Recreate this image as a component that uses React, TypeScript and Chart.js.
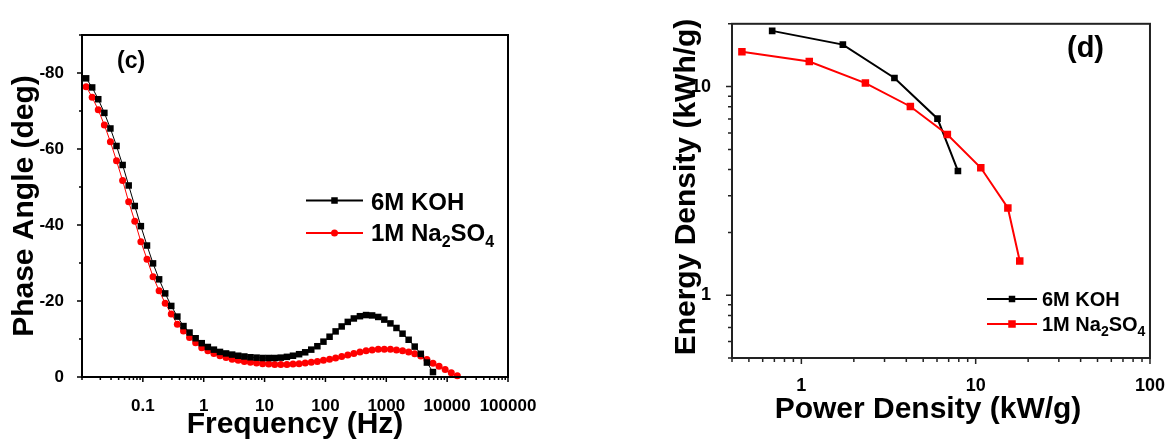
import React, { useEffect, useRef } from 'react';
import { Chart, registerables } from 'chart.js';

Chart.register(...registerables);

// ---------------- Data ----------------
// Panel (c): Bode phase plot
const frequencyHz = [
  0.0117, 0.0147, 0.0185, 0.0233, 0.0293, 0.0369, 0.0465, 0.0585, 0.0737, 0.0928,
  0.117, 0.147, 0.185, 0.233, 0.293, 0.369, 0.465, 0.585, 0.737, 0.928,
  1.17, 1.47, 1.85, 2.33, 2.93, 3.69, 4.65, 5.85, 7.37, 9.28,
  11.7, 14.7, 18.5, 23.3, 29.3, 36.9, 46.5, 58.5, 73.7, 92.8,
  117, 147, 185, 233, 293, 369, 465, 585, 737, 928,
  1170, 1470, 1850, 2330, 2930, 3690, 4650, 5850, 7370, 9280,
  11700, 14700,
];
const phaseKOH = [
  -78.6, -76.2, -73.1, -69.5, -65.4, -60.8, -55.8, -50.4, -45.0, -39.7,
  -34.6, -29.9, -25.7, -22.0, -18.7, -15.9, -13.4, -11.7, -10.2, -8.9,
  -7.9, -7.2, -6.6, -6.2, -5.9, -5.6, -5.4, -5.2, -5.1, -5.0,
  -5.0, -5.0, -5.1, -5.3, -5.6, -6.0, -6.5, -7.2, -8.1, -9.3,
  -10.6, -12.0, -13.3, -14.5, -15.4, -16.0, -16.3, -16.2, -15.8, -15.1,
  -14.1, -12.9, -11.4, -9.8, -8.0, -6.1, -3.8, -1.3,
];
const phaseNa2SO4 = [
  -76.4, -73.6, -70.3, -66.3, -61.9, -56.9, -51.7, -46.1, -41.0, -35.6,
  -31.0, -26.4, -22.7, -19.4, -16.6, -13.9, -12.1, -10.4, -9.0, -7.7,
  -6.9, -6.2, -5.6, -5.1, -4.7, -4.4, -4.1, -3.9, -3.7, -3.5,
  -3.4, -3.3, -3.3, -3.3, -3.4, -3.5, -3.7, -3.9, -4.1, -4.4,
  -4.7, -5.0, -5.4, -5.8, -6.2, -6.6, -6.9, -7.1, -7.3, -7.3,
  -7.3, -7.1, -6.9, -6.6, -6.1, -5.5, -4.6, -3.6, -2.8, -2.0,
  -1.1, -0.3,
];
const frequencyLabels = [0.1, 1, 10, 100, 1000, 10000, 100000];
const phaseLabels = [-80, -60, -40, -20, 0];

// Panel (d): Ragone plot
const powerKOH = [0.68, 1.73, 3.42, 6.04, 7.91];
const energyKOH = [18.5, 15.9, 11.0, 7.02, 3.94];
const powerNa2SO4 = [0.456, 1.11, 2.33, 4.22, 6.88, 10.7, 15.3, 17.9];
const energyNa2SO4 = [14.7, 13.2, 10.4, 8.03, 5.89, 4.08, 2.62, 1.46];
const powerLabels = [1, 10, 100];
const energyLabels = [1, 10];

const seriesNames = ['6M KOH', '1M Na2SO4'];

// ---------------- helpers ----------------
const FAMILY = '"Liberation Sans", Arial, Helvetica, sans-serif';
const W = 587;
const H = 439;

function sameValue(a: number, b: number) {
  return Math.abs(a - b) <= 1e-9 * Math.max(1, Math.abs(b));
}
function inList(v: number, list: number[]) {
  return list.some((l) => sameValue(v, l));
}
function logPositions(min: number, max: number) {
  const out: number[] = [];
  for (let e = Math.floor(Math.log10(min)); e <= Math.ceil(Math.log10(max)); e++) {
    for (let s = 1; s < 10; s++) {
      const v = parseFloat((s * Math.pow(10, e)).toPrecision(6));
      if (v >= min * (1 - 1e-9) && v <= max * (1 + 1e-9)) out.push(v);
    }
  }
  return out;
}
function linearPositions(min: number, max: number, step: number) {
  const out: number[] = [];
  for (let v = min; v <= max + 1e-9; v += step) out.push(Math.round(v * 1e6) / 1e6);
  return out;
}
function splitFormula(s: string) {
  const parts: { t: string; sub: boolean }[] = [];
  for (let i = 0; i < s.length; i++) {
    const ch = s[i];
    const prev = i > 0 ? s[i - 1] : ' ';
    const last = parts[parts.length - 1];
    const sub =
      /[0-9]/.test(ch) && (/[A-Za-z]/.test(prev) || (!!last && last.sub && /[0-9]/.test(prev)));
    if (last && last.sub === sub) last.t += ch;
    else parts.push({ t: ch, sub });
  }
  return parts;
}
function drawRich(
  ctx: CanvasRenderingContext2D,
  text: string,
  x: number,
  baseline: number,
  size: number,
  subSize: number,
  drop: number
) {
  let cx = x;
  ctx.textAlign = 'left';
  ctx.textBaseline = 'alphabetic';
  for (const p of splitFormula(text)) {
    ctx.font = `bold ${p.sub ? subSize : size}px ${FAMILY}`;
    ctx.fillText(p.t, cx, baseline + (p.sub ? drop : 0));
    cx += ctx.measureText(p.t).width;
  }
}

type Decor = {
  axisColor: string;
  frameWidth: number;
  tickWidth: number;
  majorLen: number;
  minorLen: number;
  xMajor: (v: number) => boolean;
  yMajor: (v: number) => boolean;
  xTitle: { text: string; cx: number; baseline: number; size: number };
  yTitle: { text: string; cy: number; baseline: number; size: number };
  panel: { text: string; x: number; baseline: number; size: number };
  legend: {
    x1: number;
    x2: number;
    textX: number;
    rowsCenter: number[];
    rowsBaseline: number[];
    size: number;
    subSize: number;
    drop: number;
    lineWidth: number;
    markers: { style: 'rect' | 'circle'; size: number }[];
    colors: string[];
  };
};

function makeDecor(cfg: Decor) {
  return {
    id: 'decor',
    afterDraw(chart: any) {
      const { ctx, chartArea: a, scales } = chart;
      const xs = scales.x;
      const ys = scales.y;
      ctx.save();
      // tick marks (outward)
      ctx.strokeStyle = cfg.axisColor;
      ctx.lineWidth = cfg.tickWidth;
      ctx.beginPath();
      for (const t of xs.ticks) {
        const px = xs.getPixelForValue(t.value);
        const len = cfg.xMajor(t.value) ? cfg.majorLen : cfg.minorLen;
        ctx.moveTo(px, a.bottom);
        ctx.lineTo(px, a.bottom + len);
      }
      for (const t of ys.ticks) {
        const py = ys.getPixelForValue(t.value);
        const len = cfg.yMajor(t.value) ? cfg.majorLen : cfg.minorLen;
        ctx.moveTo(a.left - len, py);
        ctx.lineTo(a.left, py);
      }
      ctx.stroke();
      // frame
      ctx.lineWidth = cfg.frameWidth;
      ctx.strokeRect(a.left, a.top, a.right - a.left, a.bottom - a.top);

      ctx.fillStyle = '#000';
      // axis titles
      ctx.font = `bold ${cfg.xTitle.size}px ${FAMILY}`;
      ctx.textAlign = 'center';
      ctx.textBaseline = 'alphabetic';
      ctx.fillText(cfg.xTitle.text, cfg.xTitle.cx, cfg.xTitle.baseline);
      ctx.save();
      ctx.translate(cfg.yTitle.baseline, cfg.yTitle.cy);
      ctx.rotate(-Math.PI / 2);
      ctx.font = `bold ${cfg.yTitle.size}px ${FAMILY}`;
      ctx.textAlign = 'center';
      ctx.textBaseline = 'alphabetic';
      ctx.fillText(cfg.yTitle.text, 0, 0);
      ctx.restore();
      // panel label
      ctx.font = `bold ${cfg.panel.size}px ${FAMILY}`;
      ctx.textAlign = 'left';
      ctx.fillText(cfg.panel.text, cfg.panel.x, cfg.panel.baseline);

      // legend
      const L = cfg.legend;
      seriesNames.forEach((name, i) => {
        const color = L.colors[i];
        const cy = L.rowsCenter[i];
        ctx.strokeStyle = color;
        ctx.lineWidth = L.lineWidth;
        ctx.beginPath();
        ctx.moveTo(L.x1, cy);
        ctx.lineTo(L.x2, cy);
        ctx.stroke();
        const mx = (L.x1 + L.x2) / 2;
        const m = L.markers[i];
        ctx.fillStyle = color;
        if (m.style === 'rect') {
          ctx.fillRect(mx - m.size / 2, cy - m.size / 2, m.size, m.size);
        } else {
          ctx.beginPath();
          ctx.arc(mx, cy, m.size / 2, 0, Math.PI * 2);
          ctx.fill();
        }
        ctx.fillStyle = '#000';
        drawRich(ctx, name, L.textX, L.rowsBaseline[i], L.size, L.subSize, L.drop);
      });
      ctx.restore();
    },
  };
}

function tickFont(size: number) {
  return { family: FAMILY, size, weight: 'bold' as const };
}

// ---------------- Panel (c) ----------------
function makePhaseConfig(): any {
  const xTicks = logPositions(0.01, 100000);
  const yTicks = linearPositions(-90, 0, 10);
  return {
    type: 'scatter',
    data: {
      datasets: [
        {
          label: seriesNames[0],
          data: phaseKOH.map((y, i) => ({ x: frequencyHz[i], y })),
          showLine: true,
          borderColor: '#000000',
          borderWidth: 1,
          pointStyle: 'rect',
          pointRadius: 4.6,
          pointHoverRadius: 4.6,
          pointBackgroundColor: '#000000',
          pointBorderWidth: 0,
          clip: 8,
          order: 0,
        },
        {
          label: seriesNames[1],
          data: phaseNa2SO4.map((y, i) => ({ x: frequencyHz[i], y })),
          showLine: true,
          borderColor: '#ff0000',
          borderWidth: 1,
          pointStyle: 'circle',
          pointRadius: 3.5,
          pointHoverRadius: 3.5,
          pointBackgroundColor: '#ff0000',
          pointBorderWidth: 0,
          clip: 8,
          order: 1,
        },
      ],
    },
    options: {
      responsive: false,
      animation: false,
      events: [],
      layout: { padding: { left: 0, top: 35, right: 79, bottom: 0 } },
      plugins: { legend: { display: false }, tooltip: { enabled: false } },
      scales: {
        x: {
          type: 'logarithmic',
          min: 0.01,
          max: 100000,
          afterBuildTicks: (s: any) => {
            s.ticks = xTicks.map((value) => ({ value }));
          },
          afterFit: (s: any) => {
            s.height = 62;
          },
          grid: { display: false },
          border: { display: false },
          ticks: {
            autoSkip: false,
            maxRotation: 0,
            minRotation: 0,
            padding: 11,
            color: '#000',
            font: tickFont(17),
            callback: (v: number) => (inList(v, frequencyLabels) ? String(v) : ''),
          },
        },
        y: {
          type: 'linear',
          reverse: true,
          min: -90,
          max: 0,
          afterBuildTicks: (s: any) => {
            s.ticks = yTicks.map((value) => ({ value }));
          },
          afterFit: (s: any) => {
            s.width = 82;
          },
          grid: { display: false },
          border: { display: false },
          ticks: {
            autoSkip: false,
            padding: 10,
            color: '#000',
            font: tickFont(17),
            callback: (v: number) => (inList(v, phaseLabels) ? String(v) : ''),
          },
        },
      },
    },
    plugins: [
      makeDecor({
        axisColor: '#000',
        frameWidth: 2,
        tickWidth: 1.5,
        majorLen: 5,
        minorLen: 3,
        xMajor: (v) => inList(v, frequencyLabels),
        yMajor: (v) => inList(v, phaseLabels),
        xTitle: { text: 'Frequency (Hz)', cx: 295, baseline: 433, size: 30 },
        yTitle: { text: 'Phase Angle (deg)', cy: 206, baseline: 33, size: 30 },
        panel: { text: '(c)', x: 117, baseline: 68, size: 23 },
        legend: {
          x1: 306,
          x2: 363,
          textX: 371,
          rowsCenter: [200.5, 233],
          rowsBaseline: [209.5, 241],
          size: 24,
          subSize: 16,
          drop: 6,
          lineWidth: 2,
          markers: [
            { style: 'rect', size: 6.5 },
            { style: 'circle', size: 7 },
          ],
          colors: ['#000000', '#ff0000'],
        },
      }),
    ],
  };
}

// ---------------- Panel (d) ----------------
function makeRagoneConfig(): any {
  const xTicks = logPositions(0.4, 100);
  const yTicks = logPositions(0.5, 20);
  return {
    type: 'scatter',
    data: {
      datasets: [
        {
          label: seriesNames[0],
          data: powerKOH.map((x, i) => ({ x, y: energyKOH[i] })),
          showLine: true,
          borderColor: '#000000',
          borderWidth: 2,
          pointStyle: 'rect',
          pointRadius: 4.7,
          pointHoverRadius: 4.7,
          pointBackgroundColor: '#000000',
          pointBorderWidth: 0,
          clip: 8,
          order: 1,
        },
        {
          label: seriesNames[1],
          data: powerNa2SO4.map((x, i) => ({ x, y: energyNa2SO4[i] })),
          showLine: true,
          borderColor: '#ff0000',
          borderWidth: 2,
          pointStyle: 'rect',
          pointRadius: 5.3,
          pointHoverRadius: 5.3,
          pointBackgroundColor: '#ff0000',
          pointBorderWidth: 0,
          clip: 8,
          order: 0,
        },
      ],
    },
    options: {
      responsive: false,
      animation: false,
      events: [],
      layout: { padding: { left: 85, top: 16, right: 17, bottom: 0 } },
      plugins: { legend: { display: false }, tooltip: { enabled: false } },
      scales: {
        x: {
          type: 'logarithmic',
          min: 0.4,
          max: 100,
          afterBuildTicks: (s: any) => {
            s.ticks = xTicks.map((value) => ({ value }));
          },
          afterFit: (s: any) => {
            s.height = 81;
          },
          grid: { display: false },
          border: { display: false },
          ticks: {
            autoSkip: false,
            maxRotation: 0,
            minRotation: 0,
            padding: 9,
            color: '#000',
            font: tickFont(18),
            callback: (v: number) => (inList(v, powerLabels) ? String(v) : ''),
          },
        },
        y: {
          type: 'logarithmic',
          min: 0.5,
          max: 20,
          afterBuildTicks: (s: any) => {
            s.ticks = yTicks.map((value) => ({ value }));
          },
          afterFit: (s: any) => {
            s.width = 60;
          },
          grid: { display: false },
          border: { display: false },
          ticks: {
            autoSkip: false,
            padding: 13,
            color: '#000',
            font: tickFont(18),
            callback: (v: number) => (inList(v, energyLabels) ? String(v) : ''),
          },
        },
      },
    },
    plugins: [
      makeDecor({
        axisColor: '#222',
        frameWidth: 2,
        tickWidth: 1.5,
        majorLen: 6,
        minorLen: 4,
        xMajor: (v) => inList(v, powerLabels),
        yMajor: (v) => inList(v, energyLabels),
        xTitle: { text: 'Power Density (kW/g)', cx: 341, baseline: 418, size: 30 },
        yTitle: { text: 'Energy Density (kWh/g)', cy: 187, baseline: 108, size: 30 },
        panel: { text: '(d)', x: 480, baseline: 57, size: 29 },
        legend: {
          x1: 400,
          x2: 450,
          textX: 455,
          rowsCenter: [299, 324],
          rowsBaseline: [305.7, 330.7],
          size: 20,
          subSize: 14,
          drop: 5,
          lineWidth: 2,
          markers: [
            { style: 'rect', size: 6.5 },
            { style: 'rect', size: 7.5 },
          ],
          colors: ['#000000', '#ff0000'],
        },
      }),
    ],
  };
}

function ChartCanvas({ make, left }: { make: () => any; left: number }) {
  const ref = useRef<HTMLCanvasElement | null>(null);
  useEffect(() => {
    if (!ref.current) return;
    const chart = new Chart(ref.current, make());
    return () => chart.destroy();
  }, [make]);
  return (
    <canvas
      ref={ref}
      width={W}
      height={H}
      style={{ position: 'absolute', left, top: 0, width: W, height: H }}
    />
  );
}

export default function App() {
  return (
    <div
      style={{
        position: 'fixed',
        left: 0,
        top: 0,
        width: 1174,
        height: 439,
        background: '#ffffff',
        overflow: 'hidden',
      }}
    >
      <ChartCanvas make={makePhaseConfig} left={0} />
      <ChartCanvas make={makeRagoneConfig} left={587} />
    </div>
  );
}
